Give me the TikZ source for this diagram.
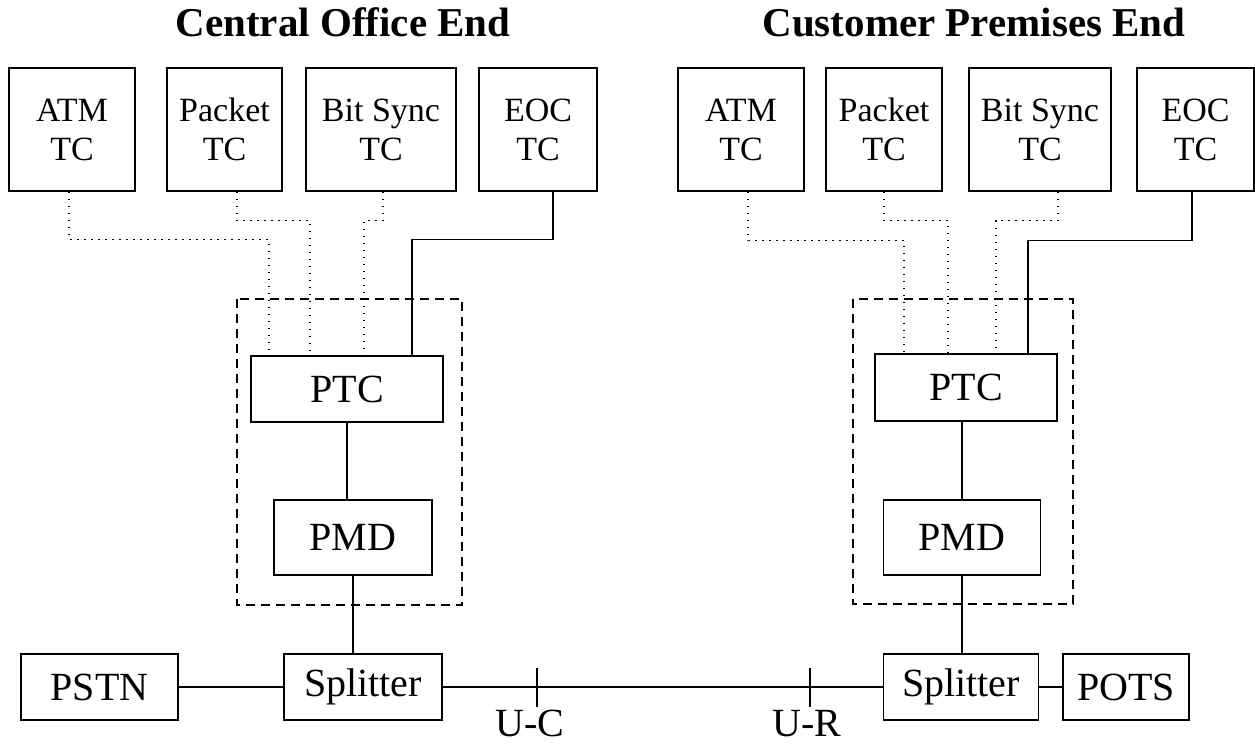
\documentclass[tikz,border=0pt]{standalone}
\usepackage{fontspec}
\setmainfont{Liberation Serif}
\usepackage{tikz}

\begin{document}
\begin{tikzpicture}[x=1pt, y=-1pt]
	\tikzstyle{tcbox} = [rectangle, minimum height=123pt, inner sep=0pt, 
	align=center, draw=black, line width=1.3pt, font=\fontsize{34}{39}\selectfont]
	\tikzstyle{block} = [rectangle, inner sep=0pt, text centered, 
	draw=black, line width=1.3pt, font=\fontsize{40}{44}\selectfont]
	\tikzstyle{title} = [anchor=base, font=\bfseries\fontsize{41}{44}\selectfont]
	\tikzstyle{label} = [anchor=base, inner sep=0pt, text depth=0pt, font=\fontsize{40}{44}\selectfont]
	\tikzstyle{wire} = [line width=1.3pt]
	\tikzstyle{dotwire} = [line width=1.3pt, dash pattern=on 1.6pt off 5.4pt]
	\tikzstyle{group} = [line width=1.3pt, dash pattern=on 9pt off 6pt]
	\useasboundingbox (0,0) rectangle (1255,744);
	% central office end
	\node (coTitle) [title] at (343,36) {Central Office End};
	\node (coAtm) [tcbox, minimum width=126pt] at (72,129.5) {ATM\\TC};
	\node (coPacket) [tcbox, minimum width=115pt] at (224.5,129.5) {Packet\\TC};
	\node (coBitSync) [tcbox, minimum width=150pt] at (381,129.5) {Bit Sync\\TC};
	\node (coEoc) [tcbox, minimum width=118pt] at (538,129.5) {EOC\\TC};
	\node (coPtc) [block, minimum width=192pt, minimum height=66pt] at (347,389) {PTC};
	\node (coPmd) [block, minimum width=158pt, minimum height=75pt] at (353,537.5) {PMD};
	\node (coSplitter) [block, minimum width=158pt, minimum height=66pt] at (363,687) {Splitter};
	\node (pstn) [block, minimum width=157pt, minimum height=66pt] at (99.5,687) {PSTN};
	% customer premises end
	\node (cpeTitle) [title] at (974,36) {Customer Premises End};
	\node (cpeAtm) [tcbox, minimum width=126pt] at (741,129.5) {ATM\\TC};
	\node (cpePacket) [tcbox, minimum width=116pt] at (884,129.5) {Packet\\TC};
	\node (cpeBitSync) [tcbox, minimum width=142pt] at (1040,129.5) {Bit Sync\\TC};
	\node (cpeEoc) [tcbox, minimum width=117pt] at (1195.5,129.5) {EOC\\TC};
	\node (cpePtc) [block, minimum width=182pt, minimum height=67pt] at (966,387.5) {PTC};
	\node (cpePmd) [block, minimum width=157pt, minimum height=75pt] at (962,537.5) {PMD};
	\node (cpeSplitter) [block, minimum width=155pt, minimum height=66pt] at (961,687) {Splitter};
	\node (pots) [block, minimum width=126pt, minimum height=66pt] at (1126,687) {POTS};
	% reference points on the loop
	\coordinate (uc) at (537,687);
	\coordinate (ur) at (810,687);
	\node (ucLabel) [label] at (530,736) {U-C};
	\node (urLabel) [label] at (807,736) {U-R};
	\draw [group] (237,299) rectangle (462,605);
	\draw [group] (853,299) rectangle (1073,604);
	\draw [dotwire] ([xshift=-3pt]coAtm.south) -- ++(0,48) -| ([xshift=-78pt]coPtc.north);
	\draw [dotwire] ([xshift=12.5pt]coPacket.south) -- ++(0,29) -| ([xshift=-37pt]coPtc.north);
	\draw [dotwire] ([xshift=2pt]coBitSync.south) -- ++(0,29) -| ([xshift=17pt]coPtc.north);
	\draw [wire] ([xshift=15pt]coEoc.south) -- ++(0,48) -| ([xshift=65pt]coPtc.north);
	\draw [dotwire] ([xshift=7pt]cpeAtm.south) -- ++(0,49) -| ([xshift=-62pt]cpePtc.north);
	\draw [dotwire] (cpePacket.south) -- ++(0,29) -| ([xshift=-18pt]cpePtc.north);
	\draw [dotwire] ([xshift=18pt]cpeBitSync.south) -- ++(0,29) -| ([xshift=30pt]cpePtc.north);
	\draw [wire] ([xshift=-3.5pt]cpeEoc.south) -- ++(0,49) -| ([xshift=62pt]cpePtc.north);
	\draw [wire] (coPtc.south) -- (coPtc.south |- coPmd.north);
	\draw [wire] (coPmd.south) -- (coPmd.south |- coSplitter.north);
	\draw [wire] (cpePmd.north) -- (cpePmd.north |- cpePtc.south);
	\draw [wire] (cpePmd.south) -- (cpePmd.south |- cpeSplitter.north);
	\draw [wire] (pstn) -- (coSplitter);
	\draw [wire] (coSplitter) -- (cpeSplitter);
	\draw [wire] (cpeSplitter) -- (pots);
	\draw [wire] (uc) ++(0,-19) -- ++(0,39);
	\draw [wire] (ur) ++(0,-19) -- ++(0,39);
\end{tikzpicture}
\end{document}
